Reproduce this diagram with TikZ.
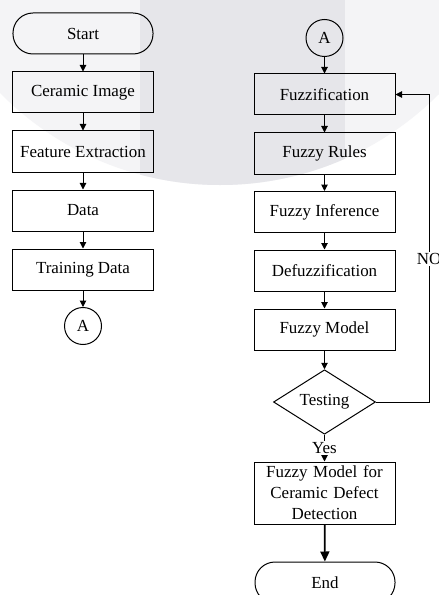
\documentclass[tikz,border=0pt]{standalone}
\usepackage{fontspec}
\setmainfont{Liberation Serif}
\usetikzlibrary{shapes.geometric,arrows.meta}
\definecolor{wmlight}{RGB}{244,244,246}
\definecolor{wmdark}{RGB}{230,230,234}
\tikzset{
  x=1bp,y=-1bp,
  every node/.style={font=\fontsize{17}{20}\selectfont, text=black},
  procbox/.style={draw, line width=1bp, minimum width=141bp, minimum height=41bp, inner sep=0pt, align=center},
  termbox/.style={draw, line width=1bp, rounded corners=20bp, minimum width=140bp, minimum height=41bp, inner sep=0pt},
  conn/.style={draw, circle, line width=1bp, minimum size=37bp, inner sep=0pt},
  decision/.style={draw, diamond, line width=1bp, minimum width=102bp, minimum height=60bp, inner sep=0pt},
  flow/.style={line width=1bp, -{Triangle[length=6.5bp,width=6.5bp]}},
  boldflow/.style={line width=1.7bp, -{Triangle[length=10bp,width=9bp]}},
  lbl/.style={fill=white, inner sep=1.5bp}
}
\begin{document}
\begin{tikzpicture}
\clip (0,0) rectangle (439,595);
\fill[white] (0,0) rectangle (439,595);
% watermark
\fill[wmlight] (220,-124) circle[radius=309bp];
\begin{scope}
  \clip (220,-124) circle[radius=309bp];
  \fill[wmdark] (140,-10) rectangle (345,300);
\end{scope}

% left column
\node[termbox] (start) at (83,33.5) {Start};
\node[procbox, minimum width=140bp] (ci) at (83,92.5) {Ceramic Image};
\node[procbox, minimum width=140bp] (fe) at (83,151.5) {Feature Extraction};
\node[procbox, minimum width=140bp] (data) at (83,210.5) {Data};
\node[procbox, minimum width=140bp] (td) at (83,269.5) {Training Data};
\node[conn] (a1) at (83,326) {A};

\draw[flow] (start) -- (ci);
\draw[flow] (ci) -- (fe);
\draw[flow] (fe) -- (data);
\draw[flow] (data) -- (td);
\draw[flow] (td) -- (a1);

% right column
\node[conn] (a2) at (324.5,38) {A};
\node[procbox] (fuz) at (324.5,94.5) {Fuzzification};
\node[procbox] (rules) at (324.5,153.5) {Fuzzy Rules};
\node[procbox] (inf) at (324.5,212) {Fuzzy Inference};
\node[procbox] (defuz) at (324.5,270.5) {Defuzzification};
\node[procbox] (model) at (324.5,329.5) {Fuzzy Model};
\node[decision] (test) at (324.5,402) {Testing};
\node[procbox, minimum height=62bp, text width=138bp, font=\fontsize{17}{21}\selectfont] (final) at (324.5,493) {Fuzzy Model for\\Ceramic Defect\\Detection};
\node[termbox] (end) at (325,582.5) {End};
\coordinate (fbr) at (429,402);
\coordinate (fbt) at (429,94.5);

\draw[flow] (a2) -- (fuz);
\draw[flow] (fuz) -- (rules);
\draw[flow] (rules) -- (inf);
\draw[flow] (inf) -- (defuz);
\draw[flow] (defuz) -- (model);
\draw[flow] (model) -- (test);
\draw[flow] (test) -- node[lbl, pos=0.5] {Yes} (final);
\draw[boldflow] (final) -- (end);
\draw[flow] (test.east) -- (fbr) -- node[lbl, pos=0.465] {NO} (fbt) -- (fuz.east);
\end{tikzpicture}
\end{document}
